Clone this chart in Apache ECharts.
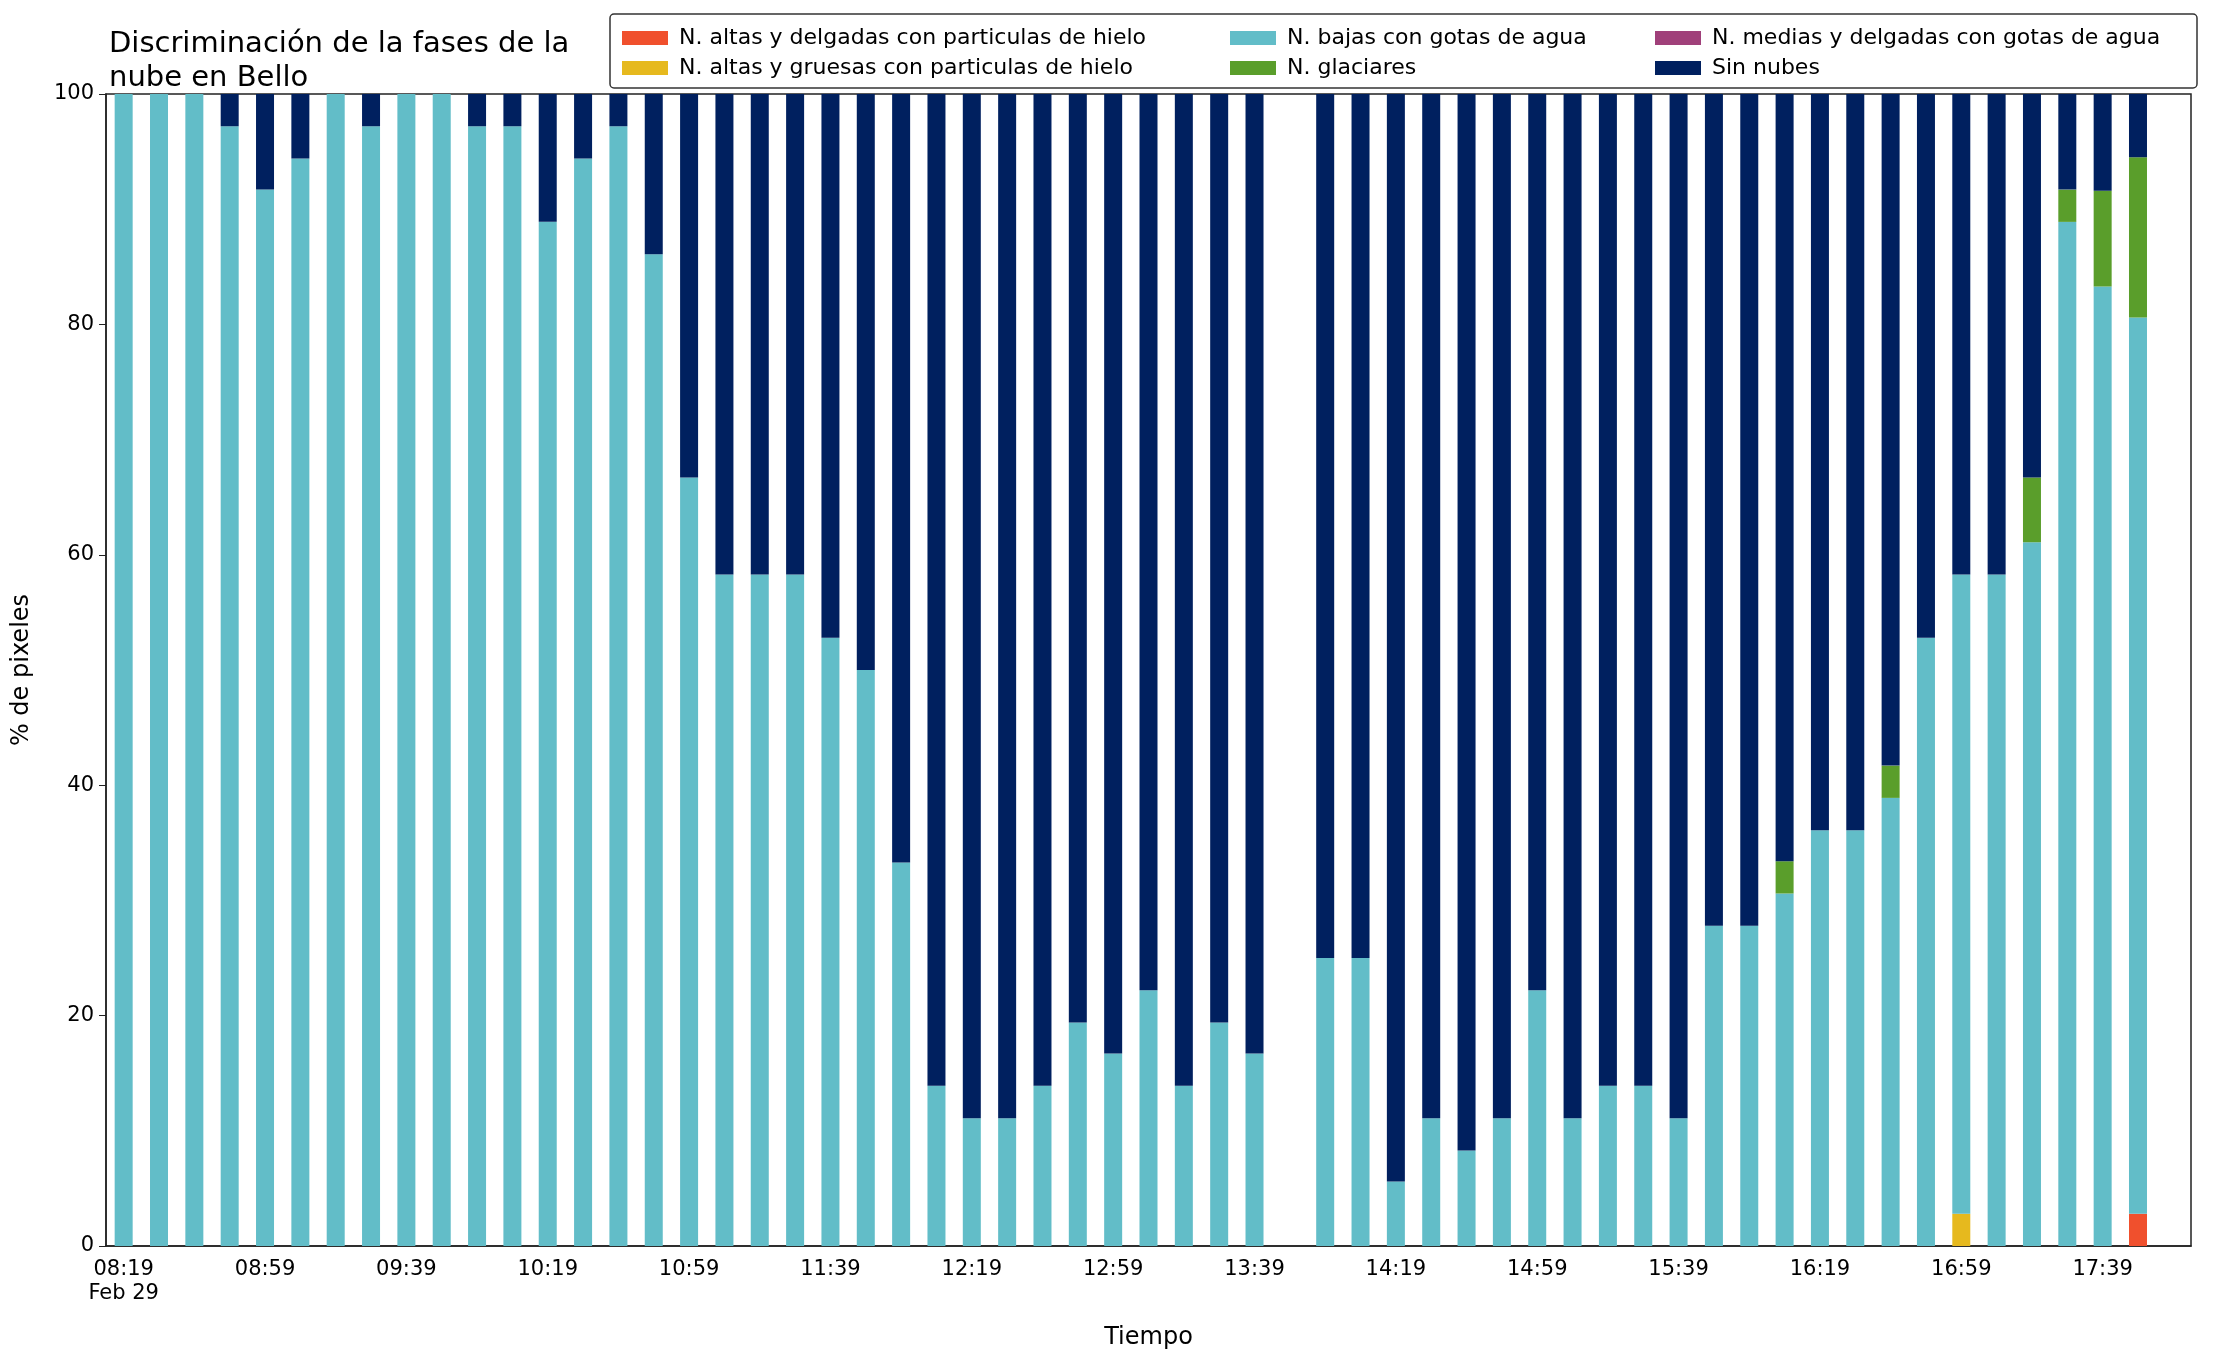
<!DOCTYPE html>
<html><head><meta charset="utf-8">
<script src="https://cdn.jsdelivr.net/npm/echarts@6/dist/echarts.min.js"></script>
<style>html,body{margin:0;padding:0;background:#fff}#c{width:2216px;height:1355px}</style>
</head><body><div id="c"></div>
<script>
var times = [];
for (var m = 8 * 60 + 19; m <= 17 * 60 + 59; m += 10) {
    times.push(('0' + Math.floor(m / 60)).slice(-2) + ':' + ('0' + m % 60).slice(-2));
}
var bajas = [100,100,100,97.2,91.7,94.4,100,97.2,100,100,97.2,97.2,88.9,94.4,97.2,86.1,66.7,58.3,58.3,58.3,
    52.8,50,33.3,13.9,11.1,11.1,13.9,19.4,16.7,22.2,13.9,19.4,16.7,null,25,25,5.6,11.1,8.3,11.1,
    22.2,11.1,13.9,13.9,11.1,27.8,27.8,30.6,36.1,36.1,38.9,52.8,55.5,58.3,61.1,88.9,83.3,77.8,null];
var altasDelg = [];
var altasGrue = [];
var glaciares = [];
var medias = [];
for (var i = 0; i < times.length; i++) { altasDelg.push(0); altasGrue.push(0); glaciares.push(0); medias.push(0); }
altasDelg[57] = 2.8;
altasGrue[52] = 2.8;
glaciares[47] = 2.8; glaciares[50] = 2.8; glaciares[54] = 5.6; glaciares[55] = 2.8; glaciares[56] = 8.3; glaciares[57] = 13.9;
var sinNubes = times.map(function(t, i){
    if (bajas[i] === null) return null;
    return +(100 - bajas[i] - altasDelg[i] - altasGrue[i] - glaciares[i] - medias[i]).toFixed(1);
});

var names = ['N. altas y delgadas con particulas de hielo','N. altas y gruesas con particulas de hielo',
    'N. bajas con gotas de agua','N. glaciares','N. medias y delgadas con gotas de agua','Sin nubes'];
var colors = ['#f0502d','#e6b91e','#62bdc8','#5a9e2b','#a0407a','#00205f'];
var stackOrder = [[0, altasDelg],[1, altasGrue],[2, bajas],[4, medias],[3, glaciares],[5, sinNubes]];

var font = 'DejaVu Sans';
var chart = echarts.init(document.getElementById('c'));
var series = stackOrder.map(function(s){
    return { name: names[s[0]], type: 'bar', stack: 'a', data: s[1], barWidth: 18,
        itemStyle: { color: colors[s[0]] }, animation: false };
});
function legendCol(x, items){
    return { orient: 'vertical', left: x, top: 22, itemGap: 8, itemWidth: 46, itemHeight: 14,
        data: items, icon: 'rect', textStyle: { fontFamily: font, fontSize: 22, color: '#000', padding: [0, 0, 0, 6] },
        selectedMode: false };
}
chart.setOption({
    animation: false,
    title: { text: 'Discriminación de la fases de la\nnube en Bello', left: 104, top: 22,
        textStyle: { fontFamily: font, fontSize: 29, fontWeight: 'normal', color: '#000', lineHeight: 34 } },
    legend: [legendCol(617, [names[0], names[1]]), legendCol(1225, [names[2], names[3]]), legendCol(1650, [names[4], names[5]])],
    graphic: [{ type: 'rect', shape: { x: 610, y: 14, width: 1587, height: 74, r: 4 },
        style: { fill: 'none', stroke: '#333', lineWidth: 1.5 } }],
    grid: { left: 106, right: 25, top: 94, bottom: 105, show: true, borderColor: '#222', borderWidth: 1.5,
        backgroundColor: 'transparent' },
    xAxis: { type: 'category', data: times,
        name: 'Tiempo', nameLocation: 'middle', nameGap: 80,
        nameTextStyle: { fontFamily: font, fontSize: 24, color: '#000' },
        axisLine: { lineStyle: { color: '#222', width: 1.5 } },
        axisTick: { alignWithLabel: true, interval: 0, length: 7, lineStyle: { color: '#222' } },
        axisLabel: { interval: 3, fontFamily: font, fontSize: 21, color: '#000', margin: 12,
            formatter: function(v, i){ return i === 0 ? v + '\nFeb 29' : v; }, lineHeight: 24 } },
    yAxis: { type: 'value', min: 0, max: 100, interval: 20,
        name: '% de pixeles', nameLocation: 'middle', nameGap: 72,
        nameTextStyle: { fontFamily: font, fontSize: 24, color: '#000' },
        axisLine: { show: true, lineStyle: { color: '#222', width: 1.5 } },
        axisTick: { show: true, length: 7, lineStyle: { color: '#222' } },
        splitLine: { show: false },
        axisLabel: { fontFamily: font, fontSize: 21, color: '#000', margin: 12 } },
    series: series
});
</script></body></html>
